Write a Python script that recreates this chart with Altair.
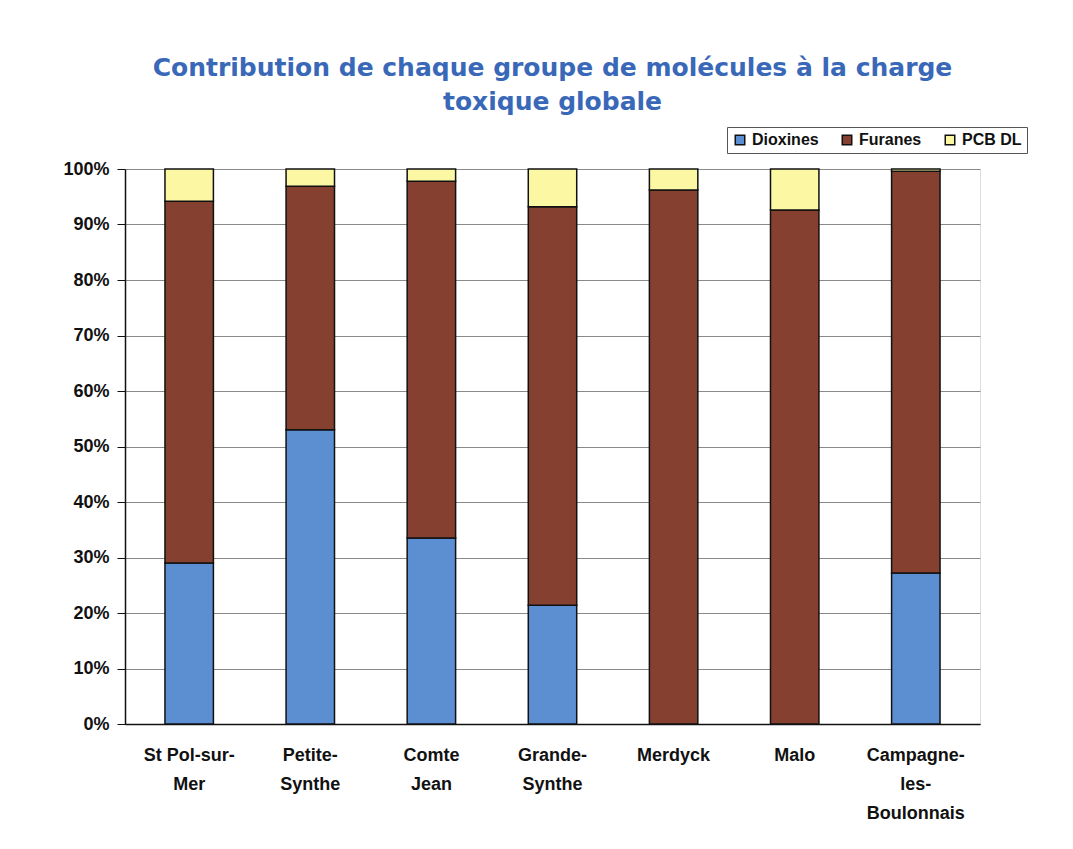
import altair as alt
import pandas as pd

sites = ["St Pol-sur-Mer", "Petite-Synthe", "Comte Jean", "Grande-Synthe",
         "Merdyck", "Malo", "Campagne-les-Boulonnais"]
dioxines = [29.0, 53.0, 33.5, 21.4, 0.0, 0.0, 27.2]
furanes = [65.2, 43.9, 64.3, 71.8, 96.2, 92.6, 72.4]
pcb_dl = [5.8, 3.1, 2.2, 6.8, 3.8, 7.4, 0.4]

series = ["Dioxines", "Furanes", "PCB DL"]
colors = ["#5b8fd2", "#85402f", "#fbf7a2"]

rows = []
for i, s in enumerate(sites):
    for k, (name, vals) in enumerate(zip(series, [dioxines, furanes, pcb_dl])):
        rows.append({"site": s, "groupe": name, "valeur": vals[i], "ordre": k})
df = pd.DataFrame(rows)

label_expr = (
    "datum.label == 'St Pol-sur-Mer' ? ['St Pol-sur-', 'Mer'] : "
    "datum.label == 'Petite-Synthe' ? ['Petite-', 'Synthe'] : "
    "datum.label == 'Comte Jean' ? ['Comte', 'Jean'] : "
    "datum.label == 'Grande-Synthe' ? ['Grande-', 'Synthe'] : "
    "datum.label == 'Campagne-les-Boulonnais' ? ['Campagne-', 'les-', 'Boulonnais'] : datum.label"
)

chart = alt.Chart(df).mark_bar(stroke="#111111", strokeWidth=1.5).encode(
    x=alt.X("site:N", sort=sites, title=None,
            scale=alt.Scale(paddingInner=0.6, paddingOuter=0.33),
            axis=alt.Axis(labelExpr=label_expr, labelAngle=0, labelFont="Liberation Sans",
                          labelFontSize=18, labelFontWeight="bold", labelColor="#111111",
                          labelPadding=22, ticks=False, domainColor="#111111",
                          domainWidth=1.5, labelLineHeight=29, labelBaseline="top")),
    y=alt.Y("valeur:Q", stack="normalize", title=None,
            scale=alt.Scale(domain=[0, 1]),
            axis=alt.Axis(format=".0%", values=[i / 10 for i in range(11)],
                          labelFont="Liberation Sans", labelFontSize=18, labelFontWeight="bold",
                          labelColor="#111111", tickSize=8, tickColor="#111111",
                          domainColor="#111111", domainWidth=1.5, labelPadding=8,
                          gridColor="#8a8a8a", gridWidth=1)),
    color=alt.Color("groupe:N", sort=series,
                    scale=alt.Scale(domain=series, range=colors),
                    legend=alt.Legend(title=None, orient="none", legendX=602, legendY=-42,
                                      direction="horizontal", symbolType="square",
                                      symbolSize=90, symbolStrokeColor="#111111",
                                      symbolStrokeWidth=1.5,
                                      labelFont="Liberation Sans", labelFontSize=16,
                                      labelFontWeight="bold", labelColor="#111111",
                                      strokeColor="#555555", padding=5, columnPadding=20,
                                      labelLimit=200)),
    order=alt.Order("ordre:Q"),
).properties(
    width=855, height=555,
    title=alt.TitleParams(
        ["Contribution de chaque groupe de molécules à la charge", "toxique globale"],
        font="DejaVu Sans", fontSize=25, fontWeight="bold", color="#3a68b8",
        anchor="middle", offset=12, lineHeight=34),
    autosize=alt.AutoSizeParams(type="none"),
    padding={"left": 117, "top": 161, "right": 85, "bottom": 120},
).configure_view(stroke=None).configure(background="white")

chart.save("out.html", embed_options={"renderer": "svg", "actions": False})
